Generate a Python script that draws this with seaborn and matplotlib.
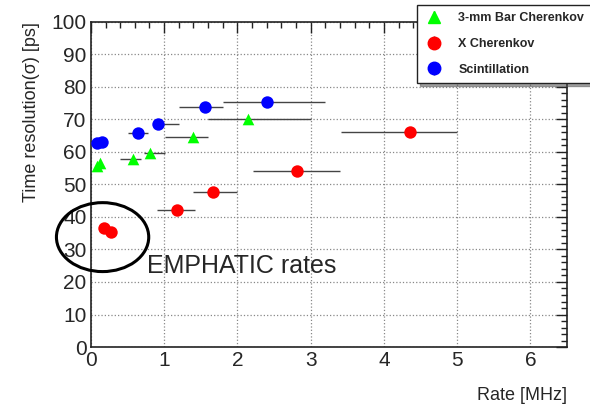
import numpy as np
import pandas as pd
import seaborn as sns
import matplotlib.pyplot as plt
from matplotlib.patches import Ellipse
from matplotlib.ticker import MultipleLocator

# data
bar_x = [0.08, 0.12, 0.58, 0.81, 1.40, 2.15]
bar_y = [55.8, 56.5, 57.8, 59.8, 64.7, 70.2]
bar_lo = [0.08, 0.12, 0.40, 0.72, 1.01, 1.60]
bar_hi = [0.08, 0.12, 0.69, 1.01, 1.60, 3.01]

xch_x = [0.18, 0.27, 1.18, 1.67, 2.82, 4.36]
xch_y = [36.7, 35.3, 42.1, 47.8, 54.2, 66.1]
xch_lo = [0.18, 0.27, 0.90, 1.40, 2.22, 3.41]
xch_hi = [0.18, 0.27, 1.42, 2.00, 3.40, 5.00]

sci_x = [0.08, 0.15, 0.64, 0.91, 1.56, 2.41]
sci_y = [62.7, 62.9, 65.7, 68.5, 73.8, 75.4]
sci_lo = [0.08, 0.15, 0.51, 0.85, 1.20, 1.80]
sci_hi = [0.08, 0.15, 0.78, 1.20, 1.80, 3.20]

labels = ["3-mm Bar Cherenkov", "X Cherenkov", "Scintillation"]
colors = ["#00ff00", "#ff0000", "#0000ff"]
markers = ["^", "o", "o"]

series = [(bar_x, bar_y, bar_lo, bar_hi), (xch_x, xch_y, xch_lo, xch_hi),
          (sci_x, sci_y, sci_lo, sci_hi)]

sns.set_style("white")
plt.rcParams['font.family'] = ['Liberation Sans', 'DejaVu Sans']

fig = plt.figure(figsize=(5.9, 4.04), dpi=100)
ax = fig.add_axes([0.154, 0.141, 0.807, 0.805])

handles = []
for (x, y, lo, hi), lab, c, m in zip(series, labels, colors, markers):
    x = np.array(x); y = np.array(y)
    xerr = [x - np.array(lo), np.array(hi) - x]
    ax.errorbar(x, y, xerr=xerr, fmt='none', ecolor='#444444', elinewidth=1, zorder=2)
    df = pd.DataFrame({"rate": x, "res": y})
    sns.scatterplot(data=df, x="rate", y="res", ax=ax, color=c, marker=m,
                    s=80 if m == "o" else 70, edgecolor=c, linewidth=0, zorder=3)
    # legend proxy, drawn outside the visible range (ROOT style marker with vertical bar)
    h = ax.errorbar([-10], [-10], yerr=[1], fmt=m, color=c, ecolor='#444444',
                    elinewidth=1, markersize=9, capsize=0)
    handles.append(h)

ax.set_xlim(0, 6.5)
ax.set_ylim(0, 100)
ax.xaxis.set_major_locator(MultipleLocator(1))
ax.xaxis.set_minor_locator(MultipleLocator(0.2))
ax.yaxis.set_major_locator(MultipleLocator(10))
ax.yaxis.set_minor_locator(MultipleLocator(2))
ax.tick_params(which='both', direction='in', top=True, right=True, color='#222222',
               labelsize=15, width=1)
ax.tick_params(which='major', length=8, pad=3)
ax.tick_params(which='minor', length=4)
ax.grid(True, which='major', linestyle=':', color='#888888', linewidth=0.9)
for s in ax.spines.values():
    s.set_color('#222222')
    s.set_linewidth(1.2)

ax.set_xlabel("Rate [MHz]", fontsize=13, loc='right', labelpad=12)
ax.set_ylabel("Time resolution(σ) [ps]", fontsize=13, loc='top', labelpad=8)

ax.add_patch(Ellipse((0.16, 33.8), 1.26, 21.2, fill=False, edgecolor='black',
                     linewidth=2.2, clip_on=False, zorder=4))
ax.text(0.77, 22.8, "EMPHATIC rates", fontsize=18, ha='left', va='baseline')

leg = fig.legend(handles, labels, loc='upper left', bbox_to_anchor=(0.707, 0.988),
                 frameon=True, fancybox=False, shadow=True, edgecolor='#222222',
                 prop={'weight': 'bold', 'size': 9}, labelspacing=1.1,
                 borderpad=0.6, handletextpad=1.2, handlelength=1.5, borderaxespad=0)
leg.get_frame().set_linewidth(1)

fig.savefig("out.png", dpi=100)
